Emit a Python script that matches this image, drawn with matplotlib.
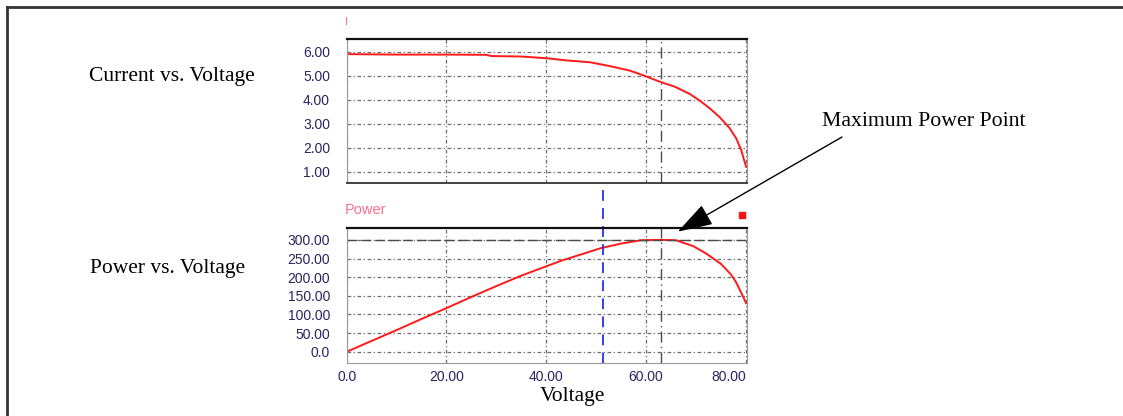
import matplotlib
matplotlib.use("Agg")
import matplotlib.pyplot as plt
from matplotlib.lines import Line2D
from matplotlib.transforms import blended_transform_factory

# values
current_v = [0, 10, 20, 28, 29, 35, 40, 44, 48.8, 52.8, 56.8, 59.8, 62.8, 65.8,
             68.8, 70.8, 72.8, 74.8, 76.8, 78.1, 79.1, 79.8, 80.1]
current_i = [5.90, 5.88, 5.88, 5.87, 5.82, 5.80, 5.73, 5.64, 5.56, 5.40, 5.21, 4.99,
             4.75, 4.54, 4.24, 3.96, 3.64, 3.27, 2.81, 2.39, 1.90, 1.40, 1.20]

power_v = [0, 5, 10, 15, 20, 25, 30, 35, 40, 43, 47, 51, 55, 59, 63, 66, 69.5,
           72, 75, 77, 78, 79, 80.1]
power_p = [0, 29, 58, 88, 117, 147, 176, 204, 229, 244, 261, 278, 290, 299, 300,
           299, 283, 264, 236, 208, 188, 161, 130]

mpp_v = 63
mpp_p = 300
cursor_v = 51.3

current_ticks = [1, 2, 3, 4, 5, 6]
current_labels = ["1.00", "2.00", "3.00", "4.00", "5.00", "6.00"]
power_ticks = [0, 50, 100, 150, 200, 250, 300]
power_labels = ["0.0", "50.00", "100.00", "150.00", "200.00", "250.00", "300.00"]
volt_ticks = [0, 20, 40, 60, 80]
volt_labels = ["0.0", "20.00", "40.00", "60.00", "80.00"]

W, H = 1123, 416
fig = plt.figure(figsize=(W / 100, H / 100), dpi=100)

tick_color = "#2e2260"
grid_style = dict(color="#6e6e6e", linewidth=0.9, linestyle=(0, (3, 2, 1, 2)))
mpp_style = dict(color="#4a4a4a", linewidth=1.0)


def style_axes(ax):
    ax.spines["top"].set_color("#111111")
    ax.spines["top"].set_linewidth(1.6)
    ax.spines["left"].set_color("#9a9a9a")
    ax.spines["right"].set_color("#9a9a9a")
    ax.spines["bottom"].set_color("#9a9a9a")
    ax.tick_params(length=0, labelsize=10, labelcolor=tick_color, pad=12)
    for lab in ax.get_yticklabels():
        lab.set_family("Liberation Sans")
    ax.set_axisbelow(True)


# current vs voltage
ax1 = fig.add_axes([346.7 / W, 1 - 183 / H, 400 / W, 144 / H])
ax1.plot(current_v, current_i, color="#ff1a1a", linewidth=1.4)
ax1.set_xlim(0, 80.2)
ax1.set_ylim(0.53, 6.53)
ax1.set_yticks(current_ticks)
ax1.set_yticklabels(current_labels)
ax1.set_xticks(volt_ticks)
ax1.set_xticklabels([])
ax1.grid(True, **grid_style)
ax1.axvline(mpp_v, linestyle=(0, (8, 3, 1, 3)), **mpp_style)
style_axes(ax1)
ax1.spines["bottom"].set_color("#333333")
ax1.spines["bottom"].set_linewidth(1.3)

# power vs voltage
ax2 = fig.add_axes([346.7 / W, 1 - 363.3 / H, 400 / W, 135 / H])
ax2.plot(power_v, power_p, color="#ff1a1a", linewidth=1.4)
ax2.set_xlim(0, 80.2)
ax2.set_ylim(-31, 331)
ax2.set_yticks(power_ticks)
ax2.set_yticklabels(power_labels)
ax2.set_xticks(volt_ticks)
ax2.set_xticklabels(volt_labels)
ax2.grid(True, **grid_style)
ax2.axvline(mpp_v, linestyle=(0, (8, 3, 1, 3)), **mpp_style)
ax2.axhline(mpp_p, linestyle=(0, (7, 3)), **mpp_style)
style_axes(ax2)
ax2.tick_params(axis="x", pad=5)
for lab in ax2.get_xticklabels():
    lab.set_family("Liberation Sans")
ax2.get_xticklabels()[-1].set_horizontalalignment("right")
ax2.get_xticklabels()[-1].set_x(80.9)

# blue cursor line crossing both panels
trans = blended_transform_factory(ax2.transData, fig.transFigure)
ax2.plot([cursor_v, cursor_v], [1 - 190 / H, 1 - 370 / H], transform=trans,
         color="#2233ee", linewidth=1.3, linestyle=(0, (6, 4)), clip_on=False)

# small pink panel labels and red square
fig.text(346.7 / W, 1 - 22 / H, "I", color="#ff6f8f", fontsize=8,
         family="Liberation Sans", ha="center", va="center")
fig.text(345 / W, 1 - 210 / H, "Power", color="#ff6f8f", fontsize=10.5,
         family="Liberation Sans", ha="left", va="center")
fig.add_artist(Line2D([742 / W], [1 - 215 / H], marker="s", markersize=5,
                      color="#ff1010", linestyle="none"))

# serif captions
serif = "Liberation Serif"
fig.text(89 / W, 1 - 77 / H, "Current vs. Voltage", fontsize=15.5, family=serif,
         ha="left", va="center")
fig.text(90 / W, 1 - 268 / H, "Power vs. Voltage", fontsize=15.5, family=serif,
         ha="left", va="center")
fig.text(572 / W, 1 - 397 / H, "Voltage", fontsize=15.5, family=serif,
         ha="center", va="center")
fig.text(822 / W, 1 - 122 / H, "Maximum Power Point", fontsize=15.7, family=serif,
         ha="left", va="center")

# arrow to the maximum power point
ax2.annotate("", xy=(66.4, 322), xycoords="data",
             xytext=(842 / W, 1 - 137 / H), textcoords="figure fraction",
             arrowprops=dict(arrowstyle="-|>,head_length=1.1,head_width=0.35",
                             mutation_scale=20, color="black", lw=1,
                             shrinkA=0, shrinkB=0),
             annotation_clip=False)

# page frame (top and left edges only)
fig.add_artist(Line2D([7 / W, 1], [1 - 7 / H, 1 - 7 / H], color="#333333", linewidth=2))
fig.add_artist(Line2D([7 / W, 7 / W], [0, 1 - 7 / H], color="#333333", linewidth=2))

fig.savefig("out.png", dpi=100)
